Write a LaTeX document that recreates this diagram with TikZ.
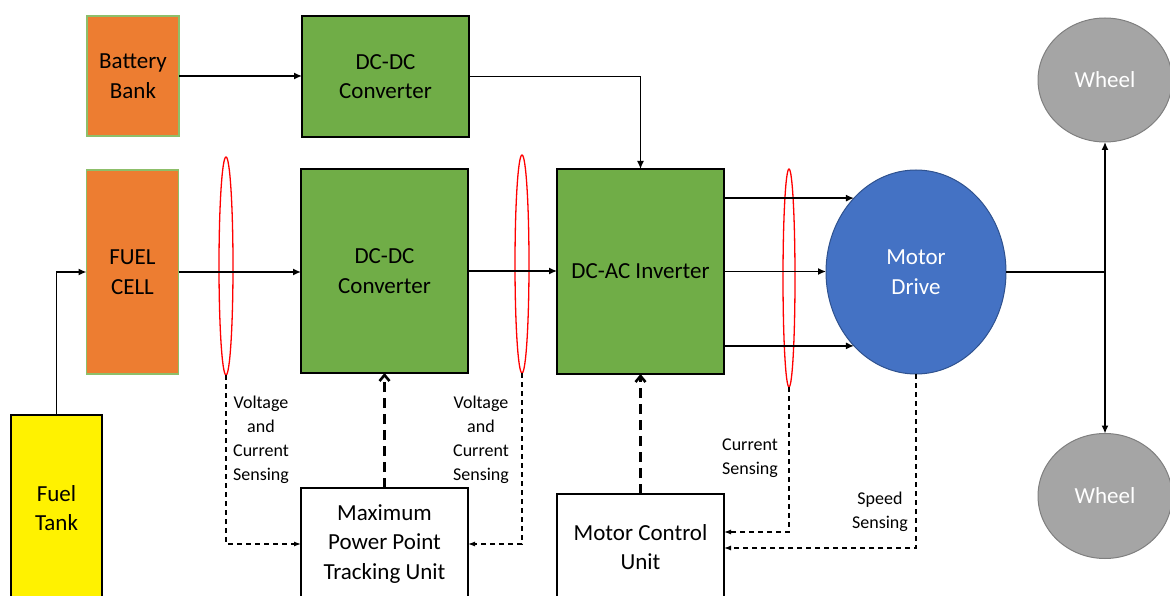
\documentclass[tikz,border=0pt]{standalone}
\usepackage{fontspec}
\setmainfont{Carlito}
\usetikzlibrary{shapes.geometric,arrows.meta}

\definecolor{cellorange}{HTML}{ED7D31}
\definecolor{cellrim}{HTML}{8DBF6A}
\definecolor{convgreen}{HTML}{70AD47}
\definecolor{driveblue}{HTML}{4472C4}
\definecolor{driverim}{HTML}{2F528F}
\definecolor{wheelgray}{HTML}{A5A5A5}
\definecolor{wheelrim}{HTML}{7F7F7F}

\begin{document}
\begin{tikzpicture}[x=1pt,y=-1pt,
  block/.style={draw, line width=1.6pt, align=center, inner sep=0pt, outer sep=0pt,
    font=\fontsize{23}{29.5}\selectfont},
  source/.style={block, fill=cellorange, draw=cellrim, minimum width=92pt},
  conv/.style={block, fill=convgreen, minimum width=167pt},
  ctrl/.style={block, fill=white, minimum width=167pt},
  round/.style={ellipse, draw, line width=1pt, inner sep=0pt, outer sep=0pt,
    text=white, align=center, font=\fontsize{23}{29.5}\selectfont},
  probe/.style={ellipse, draw=red, line width=1.3pt, minimum width=14pt,
    minimum height=218pt, inner sep=0pt, outer sep=0pt},
  flow/.style={-{Latex[length=8pt,width=7pt]}, line width=1.4pt},
  sense/.style={-{Latex[length=7pt,width=5pt]}, line width=1.2pt, dash pattern=on 5pt off 4pt},
  cmd/.style={-{Straight Barb[length=6pt,width=10pt]}, line width=2.6pt, dash pattern=on 10pt off 6pt},
  note/.style={align=center, font=\fontsize{18}{24}\selectfont}]
  \useasboundingbox (0,0) rectangle (1170,596); % picture frame

  \node (batt) at (133,76) [source, minimum height=120pt] {Battery\\Bank}; % battery
  \node (fuel) at (132.5,272) [source, minimum height=204pt] {FUEL\\CELL}; % fuel cell
  \node (tank) at (56.5,508) [block, fill=yellow, minimum width=91pt, minimum height=186pt] {Fuel\\Tank}; % fuel tank
  \node (dcdc1) at (385.5,76.5) [conv, minimum height=121pt] {DC-DC\\Converter}; % upper converter
  \node (dcdc2) at (384.5,271) [conv, minimum height=204pt] {DC-DC\\Converter}; % lower converter
  \node (inv) at (640.5,271.5) [conv, minimum height=205pt] {DC-AC Inverter}; % inverter
  \node (mppt) at (384.5,544) [ctrl, minimum height=112pt] {Maximum\\Power Point\\Tracking Unit}; % MPPT
  \node (mcu) at (640.5,547) [ctrl, minimum height=106pt] {Motor Control\\Unit}; % control unit
  \node (motor) at (916,272) [round, fill=driveblue, draw=driverim, minimum width=180pt, minimum height=204pt] {Motor\\Drive}; % motor
  \node (wtop) at (1105,80) [round, fill=wheelgray, draw=wheelrim, minimum width=134pt, minimum height=124pt] {Wheel}; % upper wheel
  \node (wbot) at (1105,496) [round, fill=wheelgray, draw=wheelrim, minimum width=134pt, minimum height=125pt] {Wheel}; % lower wheel

  \node (p1) at (226,266) [probe] {}; % sensing loop 1
  \node (p2) at (522,264) [probe] {}; % sensing loop 2
  \node (p3) at (789,278) [probe, minimum width=12pt] {}; % sensing loop 3

  \draw[flow] (tank.north) |- (fuel.west); % fuel feed
  \draw[flow] (batt.east) -- (batt.east -| dcdc1.west); % battery to converter
  \draw[flow] (dcdc1.east) -| (inv.north); % upper converter to inverter
  \draw[flow] (fuel.east) -- (fuel.east -| dcdc2.west); % cell to converter
  \draw[flow] (dcdc2.east) -- (dcdc2.east -| inv.west); % converter to inverter
  \draw[flow] (motor.130.8 -| inv.east) -- (motor.130.8); % phase a
  \draw[flow] (inv.east) -- (inv.east -| motor.west); % phase b
  \draw[flow] (motor.-130.8 -| inv.east) -- (motor.-130.8); % phase c
  \coordinate (shaft) at (motor.east -| wtop.south); % shaft junction
  \draw[line width=1.4pt] (motor.east) -- (shaft); % shaft
  \draw[flow] (shaft) -- (wtop.south); % to upper wheel
  \draw[flow] (shaft) -- (wbot.north); % to lower wheel

  \draw[sense] (p1.south) |- (mppt.west); % sensing to MPPT
  \draw[sense] (p2.south) |- (mppt.east); % sensing to MPPT
  \draw[cmd] (mppt.north) -- (dcdc2.south); % duty command
  \draw[cmd] (mcu.north) -- (inv.south); % gate command
  \draw[sense] (p3.south) |- ([yshift=15pt]mcu.east); % current feedback
  \draw[sense] (motor.south) |- ([yshift=-1pt]mcu.east); % speed feedback

  \node (vc1) at (261,440) [note] {Voltage\\and\\Current\\Sensing}; % label 1
  \node (vc2) at (481,440) [note] {Voltage\\and\\Current\\Sensing}; % label 2
  \node (cs) at (750,458) [note] {Current\\Sensing}; % label 3
  \node (ss) at (880,512) [note] {Speed\\Sensing}; % label 4
\end{tikzpicture}
\end{document}
